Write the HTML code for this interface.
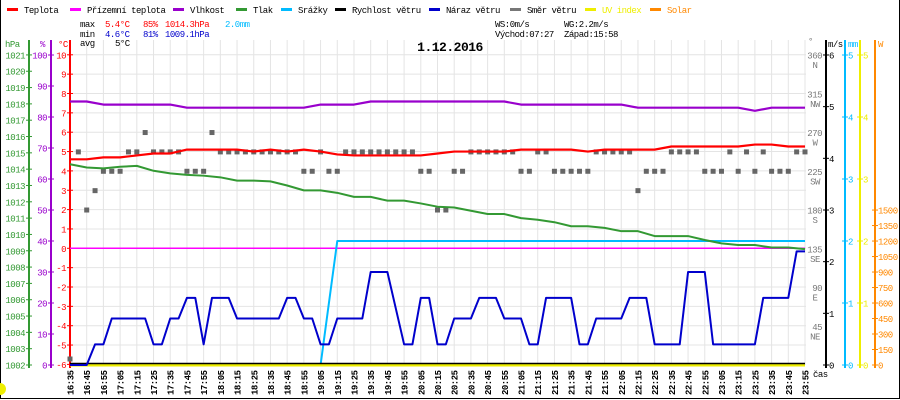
<!DOCTYPE html>
<html><head><meta charset="utf-8"><style>
html,body{margin:0;padding:0;background:#fff;}
svg{display:block;font-family:"Liberation Mono",monospace;}
svg text{letter-spacing:-0.5px;}
</style></head><body>
<svg id="c" width="900" height="400" viewBox="0 0 900 400" xmlns="http://www.w3.org/2000/svg">
<rect x="0" y="0" width="900" height="400" fill="#fff"/>
<g id="grid"></g>
<g id="axes"></g>
<g id="series"></g>
<g id="legend" font-size="9"></g>
<g font-size="9">
<text x="80" y="27" fill="#000">max</text><text x="105" y="27" fill="#f00">5.4°C</text><text x="143" y="27" fill="#f00">85%</text><text x="165" y="27" fill="#f00">1014.3hPa</text><text x="225" y="27" fill="#0bf">2.0mm</text>
<text x="80" y="37" fill="#000">min</text><text x="105" y="37" fill="#00c">4.6°C</text><text x="143" y="37" fill="#00c">81%</text><text x="165" y="37" fill="#00c">1009.1hPa</text>
<text x="80" y="46" fill="#000">avg</text><text x="115" y="46" fill="#000">5°C</text>
<text x="495" y="27" fill="#000">WS:0m/s</text><text x="564" y="27" fill="#000">WG:2.2m/s</text>
<text x="495" y="37" fill="#000">Východ:07:27</text><text x="564" y="37" fill="#000">Západ:15:58</text>
</g>
<text x="450" y="51" text-anchor="middle" font-size="13" font-weight="bold" fill="#000">1.12.2016</text>
<path d="M0.5 0 V398.5 H899.5 V0" fill="none" stroke="#000"/>
<path d="M0 383 A6 6 0 0 1 0 395 Z" fill="#ee0"/>
</svg>
<script>
const times=[];for(let i=0;i<45;i++){const m=16*60+35+i*10;times.push(String(Math.floor(m/60)).padStart(2,'0')+':'+String(m%60).padStart(2,'0'));}
const temperature=[4.6,4.6,4.7,4.7,4.8,4.9,4.9,5.1,5.1,5.1,5.1,5.0,5.1,5.0,5.1,5.0,4.85,4.8,4.8,4.8,4.8,4.8,4.9,5.0,5.0,5.0,5.0,5.1,5.1,5.1,5.1,5.0,5.1,5.1,5.1,5.1,5.26,5.26,5.26,5.26,5.26,5.36,5.36,5.26,5.26];
const pressure=[1014.3,1014.1,1014.05,1014.15,1014.2,1013.9,1013.74,1013.65,1013.6,1013.5,1013.3,1013.3,1013.25,1013.0,1012.7,1012.7,1012.55,1012.3,1012.3,1012.07,1012.07,1011.9,1011.7,1011.65,1011.45,1011.25,1011.25,1011.0,1010.9,1010.75,1010.5,1010.5,1010.4,1010.2,1010.2,1009.9,1009.9,1009.9,1009.66,1009.45,1009.35,1009.35,1009.2,1009.2,1009.1];
const humidity=[85,85,84,84,84,84,84,83,83,83,83,83,83,83,83,84,84,84,85,85,85,85,85,85,85,85,85,84,84,84,84,84,84,84,83,83,83,83,83,83,83,82,83,83,83];
const rain=[0,0,0,0,0,0,0,0,0,0,0,0,0,0,0,0,2,2,2,2,2,2,2,2,2,2,2,2,2,2,2,2,2,2,2,2,2,2,2,2,2,2,2,2,2];
const groundTemp=[0,0];
const gust=[0,0,0,0.4,0.4,
0.9,0.9,0.9,0.9,0.9,0.4,0.4,0.9,0.9,1.3,1.3,0.4,
1.3,1.3,1.3,0.9,0.9,0.9,0.9,0.9,0.9,1.3,1.3,0.9,
0.9,0.4,0.4,0.9,0.9,0.9,0.9,1.8,1.8,1.8,1.1,0.4,
0.4,1.3,1.3,0.4,0.4,0.9,0.9,0.9,1.3,1.3,1.3,0.9,
0.9,0.9,0.4,0.4,1.3,1.3,1.3,1.3,0.4,0.4,0.9,0.9,
0.9,0.9,1.3,1.3,1.3,0.4,0.4,0.4,0.4,1.8,1.8,1.8,
0.4,0.4,0.4,0.4,0.4,0.4,1.3,1.3,1.3,1.3,2.2,2.2];
const windDir=[0,247.5,180,202.5,225,225,225,247.5,247.5,270,247.5,247.5,247.5,247.5,225,225,225,270,
247.5,247.5,247.5,247.5,247.5,247.5,247.5,247.5,247.5,247.5,225,225,247.5,225,225,247.5,
247.5,247.5,247.5,247.5,247.5,247.5,247.5,247.5,225,225,180,180,225,225,247.5,247.5,247.5,247.5,247.5,247.5,
225,225,247.5,247.5,225,225,225,225,225,247.5,247.5,247.5,247.5,247.5,202.5,225,225,225,
247.5,247.5,247.5,247.5,225,225,225,247.5,225,247.5,225,247.5,225,225,225,247.5,247.5];
const windSpeed=[0,0];
const uvIndex=[0,0];

const NS='http://www.w3.org/2000/svg';
const X0=70,X1=805,Y0=365;
const xIdx10=i=>X0+(X1-X0)*i/44, xIdx5=i=>X0+(X1-X0)*i/88, xFrac=f=>X0+(X1-X0)*f;
const yT=v=>248.3-v*19.35, yP=v=>365-(v-1002)*16.32, yH=v=>365-v*3.1;
const yMS=v=>365-v*51.67, yMM=v=>365-v*62, yDeg=v=>365-v*0.861, yW=v=>365-v*0.1033;
function el(tag,attrs,parent,text){const e=document.createElementNS(NS,tag);for(const k in attrs)e.setAttribute(k,attrs[k]);if(text!==undefined)e.textContent=text;parent.appendChild(e);return e;}
const grid=document.getElementById('grid'),axes=document.getElementById('axes'),series=document.getElementById('series'),legend=document.getElementById('legend');

for(let v=-5;v<=10;v++){const g=el('line',{x1:X0,x2:806,y1:yT(v),y2:yT(v),stroke:'#e4e4e4'},grid);

}
for(let i=0;i<=44;i++){const g=el('line',{x1:xIdx10(i),x2:xIdx10(i),y1:40,y2:365,stroke:'#e4e4e4'},grid);


const t=el('text',{transform:`translate(${xIdx10(i)+3.5},395) rotate(-90)`,'font-size':'9','font-weight':'bold',fill:'#000'},axes,times[i]);

}

function vaxis(x,col,name,title,tx,ticks,yf,lx,anchor){
 const a=el('line',{x1:x,x2:x,y1:40,y2:368,stroke:col,'stroke-width':2},axes);
 
 
 const t=el('text',{x:tx,y:47,fill:col,'font-size':'9'},axes,title);
 
 
 ticks.forEach(v=>{const y=yf(v);el('line',{x1:x-3,x2:x+3,y1:y,y2:y,stroke:col},axes);
  const l=el('text',{x:lx,y:y+3.5,fill:col,'font-size':'9','text-anchor':anchor},axes,String(v));
  
  });
}
const hpaT=[];for(let v=1002;v<=1021;v++)hpaT.push(v);
const humT=[];for(let v=0;v<=100;v+=10)humT.push(v);
const tT=[];for(let v=-6;v<=10;v++)tT.push(v);
vaxis(29,'#393','pressure-axis','hPa',5,hpaT,yP,25,'end');
vaxis(51,'#90c','humidity-axis','%',40,humT,yH,47,'end');
vaxis(70,'#f00','temperature-axis','°C',58,tT,yT,66,'end');
vaxis(826,'#000','wind-speed-axis','m/s',828,[0,1,2,3,4,5,6],yMS,829,'start');
vaxis(845,'#0bf','rain-axis','mm',848,[0,1,2,3,4,5],yMM,848,'start');
vaxis(860,'#ee0','uv-axis','',862,[0,1,2,3,4,5],yMM,863,'start');
const wT=[];for(let v=0;v<=1500;v+=150)wT.push(v);
vaxis(875,'#f80','solar-axis','W',878,wT,yW,878,'start');
el('text',{x:808,y:44,fill:'#777','font-size':'9'},axes,'°');
const dirT=[360,315,270,225,180,135,90,45],dirN=['N','NW','W','SW','S','SE','E','NE'];
dirT.forEach((v,i)=>{const y=yDeg(v);
 const l=el('text',{x:822,y:y+3.5,fill:'#777','font-size':'9','text-anchor':'end'},axes,String(v));
 
 
 el('text',{x:815,y:y+13,fill:'#777','font-size':'9','text-anchor':'middle'},axes,dirN[i]);});
const cas=el('text',{x:813,y:377,fill:'#000','font-size':'9'},axes,'čas');



function poly(vals,xf,yf,col,w,name){const p=el('polyline',{points:vals.map((v,i)=>xf(i)+','+yf(v)).join(' '),fill:'none',stroke:col,'stroke-width':w,'stroke-linejoin':'round'},series);
 
 }
windDir.forEach((v,i)=>{const r=el('rect',{x:xIdx5(i)-2.5,y:Math.min(yDeg(v),359)-2.5,width:5,height:5,fill:'#666'},series);
 
 });
poly(groundTemp,i=>xFrac(i),yT,'#f0f',1.5,'ground-temperature-line');
poly(rain,xIdx10,yMM,'#0bf',2,'rain-line');
poly(uvIndex,i=>xFrac(i),yMM,'#ee0',3,'uv-index-line');
poly(windSpeed,i=>xFrac(i),v=>yMS(v)-1.5,'#000',1.5,'wind-speed-line');
poly(humidity,xIdx10,yH,'#90c',2.2,'humidity-line');
poly(pressure,xIdx10,yP,'#393',2,'pressure-line');
poly(temperature,xIdx10,yT,'#f00',2.2,'temperature-line');
poly(gust,xIdx5,yMS,'#00c',2,'wind-gust-line');

const legItems=[['Teplota','#f00',7],['Přízemní teplota','#f0f',70],['Vlhkost','#90c',173],['Tlak','#393',236],['Srážky','#0bf',281],['Rychlost větru','#000',335],['Náraz větru','#00c',429],['Směr větru','#777',510],['UV index','#ee0',585],['Solar','#f80',650]];
legItems.forEach(([t,c,x])=>{const g=el('g',{},legend);
 
 
 el('rect',{x:x,y:8,width:11,height:3,fill:c},g);
 el('text',{x:x+17,y:13,fill:(t==='UV index'||t==='Solar')?c:'#000'},g,t);});
</script>
</body></html>
